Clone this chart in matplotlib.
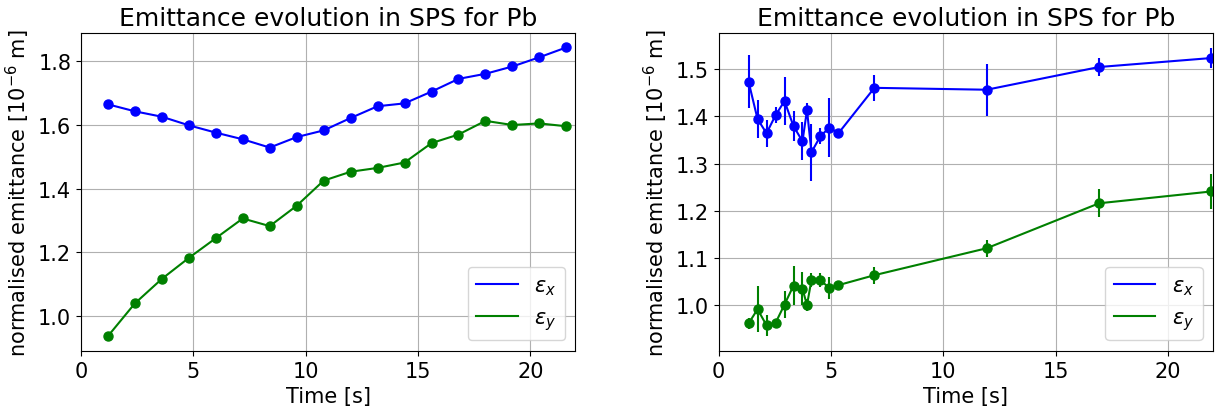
import numpy as np
import matplotlib
matplotlib.use('Agg')
import matplotlib.pyplot as plt

plt.rcParams['font.size'] = 15

# left panel: emittance from profile fits
t_left = [1.2, 2.4, 3.6, 4.8, 6.0, 7.2, 8.4, 9.6, 10.8, 12.0, 13.2, 14.4,
          15.6, 16.8, 18.0, 19.2, 20.4, 21.6]
ex_left = [1.665, 1.643, 1.626, 1.599, 1.576, 1.555, 1.529, 1.562, 1.583,
           1.622, 1.659, 1.668, 1.705, 1.745, 1.761, 1.784, 1.813, 1.844]
ey_left = [0.936, 1.039, 1.116, 1.182, 1.244, 1.306, 1.282, 1.346, 1.425,
           1.453, 1.465, 1.482, 1.543, 1.570, 1.613, 1.600, 1.605, 1.596]

# right panel: emittance with error bars
t_right = [1.33, 1.73, 2.13, 2.53, 2.93, 3.33, 3.73, 3.93, 4.13, 4.53,
           4.93, 5.33, 6.93, 11.93, 16.93, 21.93]
ex_right = [1.473, 1.394, 1.364, 1.402, 1.432, 1.379, 1.347, 1.413, 1.324,
            1.358, 1.376, 1.364, 1.460, 1.456, 1.504, 1.523]
ex_err = [0.056, 0.040, 0.028, 0.017, 0.051, 0.031, 0.040, 0.015, 0.060,
          0.017, 0.063, 0.005, 0.028, 0.055, 0.020, 0.022]
ey_right = [0.962, 0.992, 0.958, 0.963, 1.002, 1.042, 1.035, 1.001, 1.054,
            1.053, 1.037, 1.043, 1.064, 1.121, 1.216, 1.241]
ey_err = [0.012, 0.049, 0.022, 0.005, 0.029, 0.042, 0.035, 0.013, 0.015,
          0.015, 0.024, 0.006, 0.018, 0.018, 0.030, 0.037]

fig, (ax1, ax2) = plt.subplots(1, 2, figsize=(12.27, 4.14), dpi=100)
fig.subplots_adjust(left=0.066, right=0.9886, bottom=0.150, top=0.918, wspace=0.29)

ms = 6.5
ax1.plot(t_left, ex_left, '-', color='blue', label=r'$\epsilon_x$')
ax1.plot(t_left, ey_left, '-', color='green', label=r'$\epsilon_y$')
ax1.plot(t_left, ex_left, 'o', color='blue', ms=ms)
ax1.plot(t_left, ey_left, 'o', color='green', ms=ms)

ax2.plot(t_right, ex_right, '-', color='blue', label=r'$\epsilon_x$')
ax2.plot(t_right, ey_right, '-', color='green', label=r'$\epsilon_y$')
ax2.errorbar(t_right, ex_right, yerr=ex_err, fmt='o', color='blue', ms=ms, elinewidth=1.5)
ax2.errorbar(t_right, ey_right, yerr=ey_err, fmt='o', color='green', ms=ms, elinewidth=1.5)

for ax in (ax1, ax2):
    ax.set_xlim(0, 22)
    ax.grid(True)
    ax.set_title('Emittance evolution in SPS for Pb')
    ax.set_xlabel('Time [s]')
    ax.set_ylabel(r'normalised emittance [$10^{-6}$ m]')
    ax.legend(loc='lower right')

ax1.set_ylim(0.8895, 1.8895)
ax2.set_ylim(0.904, 1.576)

plt.savefig('out.png')
